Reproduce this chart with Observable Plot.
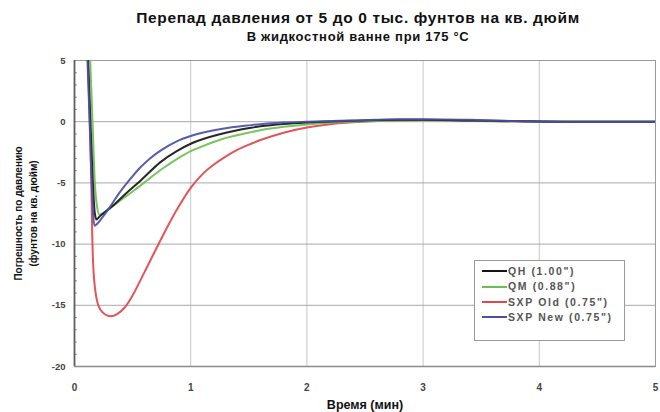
<!DOCTYPE html>
<html>
<head>
<meta charset="utf-8">
<script src="https://cdn.jsdelivr.net/npm/d3@7"></script>
<script src="https://cdn.jsdelivr.net/npm/@observablehq/plot@0.6"></script>
<style>
  html, body { margin: 0; padding: 0; background: #fff; }
  body { width: 660px; height: 412px; position: relative; overflow: hidden; font-family: "Liberation Sans", Arial, Helvetica, sans-serif; }
  #head { height: 48px; position: relative; }
  #title { position: absolute; left: 0; width: 716px; top: 9px; text-align: center; font-weight: bold; font-size: 15.5px; letter-spacing: 0.65px; color: #111; }
  #subtitle { position: absolute; left: 0; width: 716px; top: 29px; text-align: center; font-weight: bold; font-size: 13px; letter-spacing: 0.7px; color: #111; }
  #legend { position: absolute; left: 474px; top: 260px; width: 149px; height: 79px; border: 1px solid #9a9a9a; background: #fff; }
  .item { position: absolute; left: 7px; height: 13px; line-height: 13px; font-size: 10.5px; letter-spacing: 1.6px; font-weight: bold; color: #555; white-space: nowrap; }
  .item .sw { display: inline-block; width: 25px; height: 0; border-top: 2.5px solid; vertical-align: middle; margin-right: 1px; position: relative; top: -1px; }
</style>
</head>
<body>
<div id="head"><div id="title"></div><div id="subtitle"></div></div>
<div id="chart"></div>
<div id="legend"></div>
<script>
const titleText = "Перепад давления от 5 до 0 тыс. фунтов на кв. дюйм";
const subtitleText = "В жидкостной ванне при 175 °С";
const xLabel = "Время (мин)";
const yLabel = "Погрешность по давлению\n(фунтов на кв. дюйм)";

const seriesNames = ["QH (1.00\")", "QM (0.88\")", "SXP Old (0.75\")", "SXP New (0.75\")"];
const seriesColors = ["#151515", "#6cbf4f", "#e2474b", "#4b4fa6"];

const xTicks = [0, 1, 2, 3, 4, 5];
const yTicks = [5, 0, -5, -10, -15, -20];
const yMinorTicks = [4,3,2,1,-1,-2,-3,-4,-6,-7,-8,-9,-11,-12,-13,-14,-16,-17,-18,-19];

// QH (black)
const qhT = [0.095,0.117,0.137,0.158,0.175,0.19,0.21,0.26,0.35,0.45,0.57,0.74,0.88,1.0,1.26,1.52,1.6,1.8,2.0,2.2,2.4,2.8,3.0,3.4,3.8,4.2,5.0];
const qhV = [9,5,0,-5,-7.5,-8.0,-7.8,-7.4,-6.7,-5.8,-4.8,-3.3,-2.4,-1.8,-1.0,-0.5,-0.38,-0.18,-0.06,0.02,0.08,0.15,0.15,0.1,0.05,0,0];
// QM (green)
const qmT = [0.11,0.135,0.155,0.175,0.195,0.215,0.25,0.3,0.4,0.5,0.57,0.65,0.74,0.88,1.0,1.09,1.26,1.52,1.6,1.8,2.0,2.2,2.4,2.8,3.0,3.4,4.0,5.0];
const qmV = [9,5,0,-5,-7.0,-7.6,-7.45,-7.1,-6.4,-5.7,-5.2,-4.6,-3.95,-3.05,-2.4,-2.05,-1.45,-0.85,-0.7,-0.42,-0.22,-0.08,0,0.1,0.12,0.08,0,0];
// SXP Old (red)
const oldT = [0.09,0.115,0.132,0.145,0.152,0.16,0.17,0.185,0.205,0.23,0.265,0.31,0.37,0.43,0.5,0.57,0.66,0.75,0.88,1.0,1.1,1.2,1.3,1.4,1.52,1.6,1.8,2.0,2.2,2.4,2.6,2.8,3.0,3.3,3.6,4.0,4.5,5.0];
const oldV = [9,5,0,-5,-9,-11.5,-13,-14.2,-15.0,-15.45,-15.75,-15.9,-15.7,-15.2,-14.2,-12.9,-11.2,-9.5,-7.2,-5.4,-4.3,-3.5,-2.85,-2.3,-1.8,-1.5,-0.9,-0.48,-0.2,-0.05,0.06,0.12,0.14,0.1,0.05,0,0,0];
// SXP New (blue)
const newT = [0.09,0.112,0.13,0.148,0.16,0.172,0.2,0.25,0.31,0.38,0.47,0.57,0.65,0.74,0.88,1.0,1.26,1.52,1.6,1.8,2.0,2.4,2.8,3.0,3.4,3.8,4.2,5.0];
const newV = [9,5,0,-5,-7.5,-8.5,-8.3,-7.7,-6.9,-5.9,-4.8,-3.7,-3.0,-2.36,-1.6,-1.17,-0.6,-0.28,-0.2,-0.07,0,0.1,0.2,0.2,0.15,0.05,0,0];

const seriesT = [qhT, qmT, oldT, newT];
const seriesV = [qhV, qmV, oldV, newV];

document.getElementById("title").textContent = titleText;
document.getElementById("subtitle").textContent = subtitleText;

const data = [];
seriesNames.forEach((name, i) => {
  seriesT[i].forEach((t, j) => data.push({series: name, t, v: seriesV[i][j]}));
});
// drawing order: red, green, black, blue
const drawOrder = [2, 1, 0, 3];

const lineMarks = drawOrder.map(i =>
  Plot.line(data.filter(d => d.series === seriesNames[i]), {
    x: "t", y: "v", stroke: seriesColors[i], strokeWidth: 2, curve: "monotone-x", clip: true, strokeOpacity: 0.92
  })
);

const chart = Plot.plot({
  width: 660,
  height: 364,
  marginLeft: 74,
  marginRight: 5,
  marginTop: 12,
  marginBottom: 46,
  style: {fontFamily: "'Liberation Sans', Arial, sans-serif", background: "#fff"},
  x: {domain: [0, 5]},
  y: {domain: [-20, 5]},
  marks: [
    Plot.gridX([1, 2, 3, 4], {stroke: "#c8c8c8", strokeOpacity: 1}),
    Plot.gridY([0, -5, -10, -15], {stroke: "#a8a8a8", strokeOpacity: 1}),
    Plot.frame({stroke: "#9a9a9a"}),
    Plot.ruleY(yMinorTicks, {x1: 0, x2: 0.025, stroke: "#888"}),
    Plot.ruleX([0], {stroke: "#5e5e5e", strokeWidth: 1.8}),
    Plot.ruleY([-20], {stroke: "#8a8a8a", strokeWidth: 1.5}),
    ...lineMarks,
    Plot.axisX(xTicks, {tickSize: 0, tickPadding: 17, fontSize: 10, fontWeight: "bold", fill: "#444", label: null, tickFormat: d => String(d)}),
    Plot.axisY(yTicks, {tickSize: 0, tickPadding: 9, fontSize: 9.5, fontWeight: "bold", fill: "#444", label: null, tickFormat: d => String(d)}),
    Plot.text([xLabel], {frameAnchor: "bottom", dy: 38, lineAnchor: "middle", textAnchor: "middle", fontSize: 12.5, fontWeight: "bold", fill: "#111", style: {letterSpacing: "0.5px"}}),
    Plot.text([yLabel], {frameAnchor: "left", rotate: -90, dx: -50, textAnchor: "middle", lineAnchor: "middle", fontSize: 10, fontWeight: "bold", fill: "#111", lineHeight: 1.5})
  ]
});
document.getElementById("chart").appendChild(chart);

const legend = document.getElementById("legend");
seriesNames.forEach((name, i) => {
  const div = document.createElement("div");
  div.className = "item";
  div.style.top = (4 + i * 15.3) + "px";
  const sw = document.createElement("span");
  sw.className = "sw";
  sw.style.borderColor = seriesColors[i];
  div.appendChild(sw);
  div.appendChild(document.createTextNode(name));
  legend.appendChild(div);
});
</script>
</body>
</html>
